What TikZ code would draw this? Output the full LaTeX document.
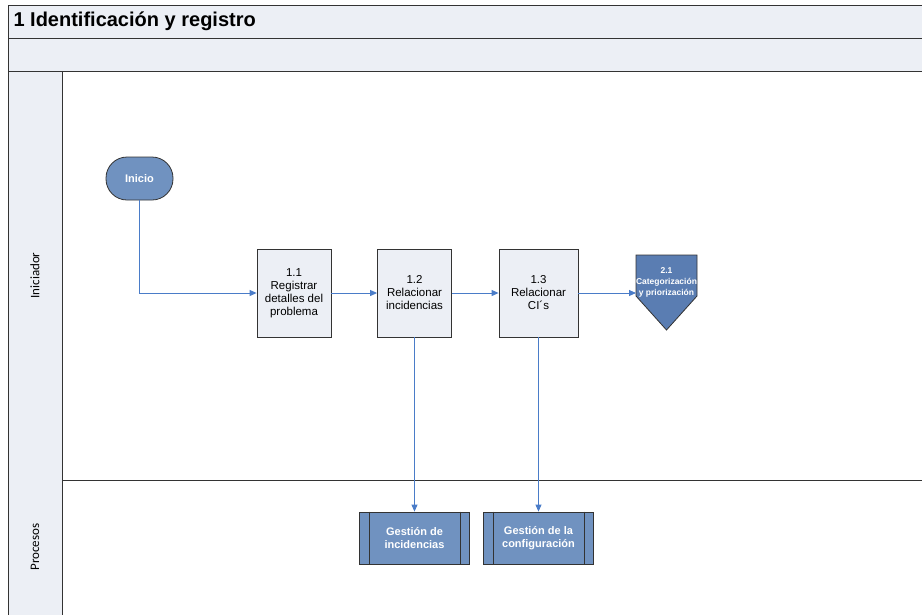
\documentclass[tikz,border=0pt]{standalone}
\usepackage{fontspec}
\setmainfont{Liberation Sans}
\newfontfamily\lanefont{Carlito}
\usetikzlibrary{arrows.meta}
\definecolor{lanefill}{RGB}{236,239,245}
\definecolor{procblue}{RGB}{112,146,192}
\definecolor{offblue}{RGB}{90,125,178}
\definecolor{linkblue}{RGB}{74,124,200}
\definecolor{frame}{RGB}{51,51,51}
\tikzset{
  lane/.style={draw=frame, fill=lanefill, line width=0.9pt},
  task/.style={draw=frame, fill=lanefill, line width=0.8pt, minimum width=74pt, minimum height=88pt,
    align=center, font=\fontsize{11.5}{13}\selectfont},
  startnode/.style={draw=frame, fill=procblue, line width=0.8pt, rounded corners=21pt,
    minimum width=67pt, minimum height=43pt, text=white, font=\bfseries\fontsize{11}{13}\selectfont},
  subproc/.style={draw=frame, fill=procblue, line width=0.8pt, minimum width=110pt, minimum height=52pt,
    text=white, align=center, font=\bfseries\fontsize{11}{13.5}\selectfont},
  offpage/.style={draw=frame, fill=offblue, line width=0.8pt},
  offtext/.style={text=white, align=center, inner sep=0pt, font=\bfseries\fontsize{8.5}{11}\selectfont},
  flow/.style={draw=linkblue, line width=0.9pt, -{Triangle[length=7pt,width=6pt]}},
  lanelabel/.style={rotate=90, font=\lanefont\fontsize{13}{15}\selectfont}
}
\begin{document}
\begin{tikzpicture}[x=1pt,y=-1pt]
\useasboundingbox (0,0) rectangle (922,614);
% pool
\draw[lane] (8,5) rectangle (930,38);
\draw[lane] (8,38) rectangle (930,71);
\draw[lane] (8,71) rectangle (62,620);
\draw[frame, line width=0.9pt] (62,480) -- (930,480);
\node[anchor=west, font=\bfseries\fontsize{20}{24}\selectfont] (titulo) at (10,21.5) {1 Identificación y registro};
\node[lanelabel] (ini) at (35,275.5) {Iniciador};
\node[lanelabel] (proc) at (35,547) {Procesos};

\node[startnode] (inicio) at (139.5,178.5) {Inicio};
\node[task] (r11) at (294,293) {1.1\\Registrar\\detalles del\\problema};
\node[task] (r12) at (414.5,293) {1.2\\Relacionar\\incidencias};
\node[task, minimum width=79pt] (r13) at (538.5,293) {1.3\\Relacionar\\CI´s};
\draw[offpage] (636,255) -- (697,255) -- (697,296) -- (666.5,330) -- (636,296) -- cycle;
\node[offtext] (c21) at (666.5,282) {2.1\\Categorización\\y priorización};
\coordinate (c21in) at (636,293);

\node[subproc] (g1) at (414.5,538) {Gestión de\\incidencias};
\node[subproc] (g2) at (538.5,538) {Gestión de la\\configuración};
\foreach \g in {g1,g2}
  \draw[frame, line width=0.8pt] ([xshift=10pt]\g.north west) -- ([xshift=10pt]\g.south west)
    ([xshift=-10pt]\g.north east) -- ([xshift=-10pt]\g.south east);

\draw[flow] (inicio.south) |- (r11.west);
\draw[flow] (r11) -- (r12);
\draw[flow] (r12) -- (r13);
\draw[flow] (r13) -- (c21in);
\draw[flow] (r12.south) -- (g1.north);
\draw[flow] (r13.south) -- (g2.north);
\end{tikzpicture}
\end{document}
